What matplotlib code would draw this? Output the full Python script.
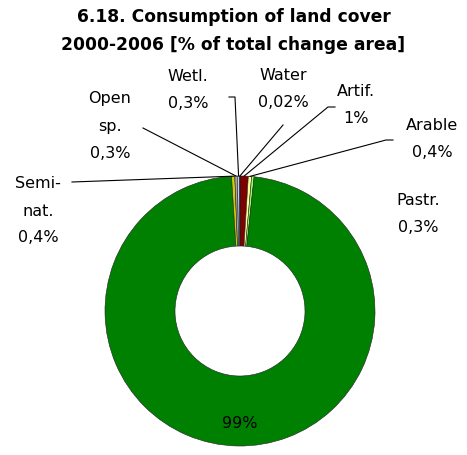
import matplotlib.pyplot as plt
import numpy as np

# land cover flows, clockwise from 12 o'clock
categories = ["Artif.", "Arable", "Pastr.", "Forest", "Semi-\nnat.", "Open\nsp.", "Wetl.", "Water"]
shares = [1.0, 0.4, 0.3, 99.0, 0.4, 0.3, 0.3, 0.02]
value_labels = ["1%", "0,4%", "0,3%", "99%", "0,4%", "0,3%", "0,3%", "0,02%"]
colors = ["#800000", "#ffff99", "#99ff66", "#008000",
          "#cccc00", "#a6a6a6", "#ccccff", "#33cccc"]

W, H = 467, 455


def px(x, y):
    # pixel position (top-left origin) -> data coords
    return x, H - y


fig = plt.figure(figsize=(W / 100, H / 100), dpi=100)
ax = fig.add_axes([0, 0, 1, 1])

cx, cy = px(240, 311)
R = 135
wedges, _ = ax.pie(shares, colors=colors, startangle=90, counterclock=False,
                   center=(cx, cy), radius=R,
                   wedgeprops=dict(width=70, edgecolor="#202020", linewidth=0.4))
ax.set_xlim(0, W)
ax.set_ylim(0, H)
ax.set_aspect("equal")
ax.axis("off")

fig.text(0.5, 1 - 17 / H, "6.18. Consumption of land cover", ha="center", va="center",
         fontsize=12.3, fontweight="bold")
fig.text(0.5, 1 - 45 / H, "2000-2006 [% of total change area]", ha="center", va="center",
         fontsize=12.3, fontweight="bold")

# label centre (pixels) and leader path (pixels) for each slice
label_pos = {
    "Artif.": (356, 105),
    "Arable": (432, 139),
    "Pastr.": (418, 214),
    "Semi-\nnat.": (38, 211),
    "Open\nsp.": (110, 126),
    "Wetl.": (188, 90),
    "Water": (283, 89),
}
leader = {
    "Artif.": [(335, 107), (328, 107)],
    "Arable": [(393, 140), (386, 140)],
    "Semi-\nnat.": [(72, 182)],
    "Open\nsp.": [(143, 128)],
    "Wetl.": [(229, 97), (235, 97)],
    "Water": [(283, 125)],
}

for w, cat, val in zip(wedges, categories, value_labels):
    if cat == "Forest":
        x, y = px(240, 424)
        ax.text(x, y, val, ha="center", va="center", fontsize=11.5)
        continue
    lx, ly = px(*label_pos[cat])
    ax.text(lx, ly, cat + "\n" + val, ha="center", va="center", fontsize=11.5,
            linespacing=2.0)
    if cat in leader:
        ang = np.deg2rad((w.theta1 + w.theta2) / 2)
        ex, ey = cx + R * np.cos(ang), cy + R * np.sin(ang)
        pts = [px(*p) for p in leader[cat]] + [(ex, ey)]
        xs, ys = zip(*pts)
        ax.plot(xs, ys, color="black", linewidth=0.8)

fig.savefig("out.png", dpi=100)
